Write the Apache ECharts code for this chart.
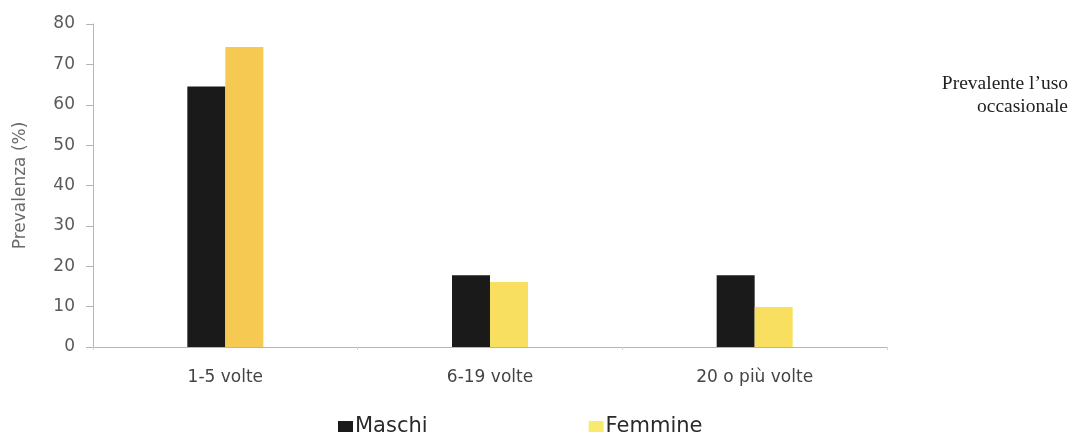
<!DOCTYPE html>
<html>
<head>
<meta charset="utf-8">
<script src="https://cdn.jsdelivr.net/npm/echarts@6/dist/echarts.min.js"></script>
<style>html,body{margin:0;padding:0;background:#fff;}#c{width:1082px;height:434px;}</style>
</head>
<body>
<div id="c"></div>
<script>
const categories = ['1-5 volte', '6-19 volte', '20 o più volte'];
const maschi = [64.5, 17.8, 17.8];
const femmine = [74.3, 16.1, 9.9];
const yTicks = { min: 0, max: 80, interval: 10 };
const noteLines = ['Prevalente l\u2019uso', 'occasionale'];

const chart = echarts.init(document.getElementById('c'));
chart.setOption({
  animation: false,
  backgroundColor: '#ffffff',
  textStyle: { fontFamily: '"DejaVu Sans", Verdana, sans-serif' },
  grid: { left: 93, right: 195, top: 24, bottom: 87, containLabel: false },
  legend: {
    top: 411,
    left: 333,
    itemGap: 161,
    itemWidth: 15,
    itemHeight: 11,
    icon: 'rect',
    textStyle: { fontSize: 21, color: '#2a2a2a', padding: [0, 0, 0, -3] },
    data: [
      { name: 'Maschi', itemStyle: { color: '#1a1a1a' } },
      { name: 'Femmine', itemStyle: { color: '#f8ea6c' } }
    ]
  },
  xAxis: {
    type: 'category',
    data: categories,
    axisLine: { lineStyle: { color: '#b5b5b5', width: 1 } },
    axisTick: { show: true, alignWithLabel: false, length: 3, lineStyle: { color: '#d5d5d5' } },
    axisLabel: { fontSize: 17, color: '#444444', margin: 22 }
  },
  yAxis: {
    type: 'value',
    min: yTicks.min,
    max: yTicks.max,
    interval: yTicks.interval,
    name: 'Prevalenza (%)',
    nameLocation: 'middle',
    nameGap: 64,
    nameTextStyle: { fontSize: 17, color: '#6a6a6a' },
    axisLine: { show: true, lineStyle: { color: '#b5b5b5' } },
    axisTick: { show: true, length: 7, lineStyle: { color: '#b5b5b5' } },
    axisLabel: { fontSize: 17, color: '#5a5a5a', margin: 18 },
    splitLine: { show: false }
  },
  series: [
    {
      name: 'Maschi',
      type: 'bar',
      data: maschi,
      barWidth: 38,
      barGap: '0%',
      itemStyle: { color: '#1a1a1a' }
    },
    {
      name: 'Femmine',
      type: 'bar',
      data: femmine,
      barWidth: 38,
      barGap: '0%',
      itemStyle: { color: function (p) { return p.dataIndex === 0 ? '#f6ca52' : '#f8df5f'; } }
    }
  ],
  graphic: noteLines.map(function (t, i) {
    return {
      type: 'text',
      right: 14,
      top: 74 + i * 23,
      style: {
        text: t,
        font: '19.5px "Liberation Serif", "Times New Roman", serif',
        fill: '#222'
      }
    };
  })
});
</script>
</body>
</html>
